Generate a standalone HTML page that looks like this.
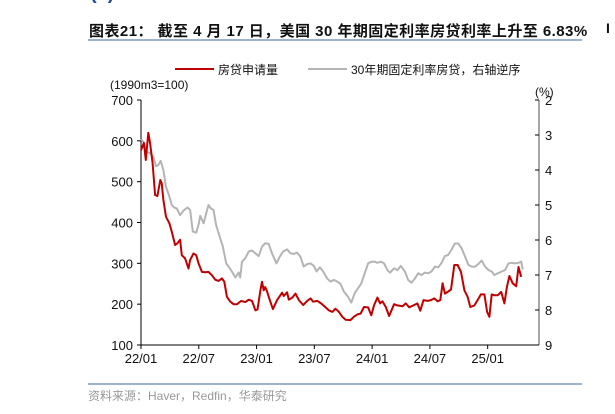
<!DOCTYPE html>
<html><head><meta charset="utf-8">
<style>
body{margin:0;width:615px;height:414px;background:#fff;overflow:hidden;font-family:"Liberation Sans","Noto Sans CJK SC",sans-serif;}
#wrap{position:relative;width:615px;height:414px;}
.t{position:absolute;white-space:nowrap;}
</style></head>
<body>
<div id="wrap">
<div class="t" style="left:90px;top:-18px;font-size:20px;color:#1f4e8c;font-weight:bold;">(2)</div>
<div class="t" style="left:89px;top:20px;font-size:15px;font-weight:bold;color:#111;letter-spacing:0.45px;">图表21：&nbsp;截至 4 月 17 日，美国 30 年期固定利率房贷利率上升至 6.83%</div>
<div style="position:absolute;left:88px;top:39px;width:494px;height:2px;background:#9fb2cc;"></div>
<div style="position:absolute;left:88px;top:383px;width:494px;height:2px;background:#9fb2cc;"></div>
<div class="t" style="left:88px;top:387px;font-size:12px;color:#999;">资料来源：Haver，Redfin，华泰研究</div>
<div class="t" style="left:606px;top:20px;font-size:14px;font-weight:bold;color:#111;">I</div>
<svg id="chart" width="615" height="414" style="position:absolute;left:0;top:0"></svg>
</div>
<script>
const redMonths=[0,0.3,0.5,0.76,0.94,1.2,1.46,1.7,2.0,2.15,2.33,2.6,2.95,3.2,3.54,3.78,4.06,4.24,4.58,4.93,5.1,5.45,5.73,5.97,6.32,6.67,7.0,7.36,7.7,8.05,8.4,8.65,8.92,9.27,9.62,9.97,10.4,10.83,11.18,11.53,11.88,12.1,12.4,12.57,12.74,12.9,13.1,13.37,13.7,14.13,14.65,14.83,15.17,15.35,15.7,16.04,16.4,16.84,17.26,17.6,17.88,18.3,18.7,19.17,19.5,19.86,20.2,20.55,20.9,21.25,21.77,22.1,22.47,22.8,23.16,23.58,23.92,24.2,24.55,24.83,25.07,25.42,25.76,26.28,26.63,27.15,27.5,27.85,28.37,28.7,29.0,29.34,29.76,30.1,30.45,30.8,31.08,31.32,31.56,31.84,32.19,32.53,32.88,33.23,33.58,33.92,34.2,34.62,34.97,35.3,35.66,35.94,36.18,36.42,36.7,37.05,37.4,37.74,38.0,38.26,38.6,38.96,39.2,39.48];
const redValues=[577,595,553,620,594,545,467,465,504,496,455,414,398,377,345,349,358,320,312,287,308,324,320,300,279,278,279,271,260,257,263,255,218,206,200,200,208,205,211,208,185,187,234,255,234,242,230,210,188,210,228,220,229,211,216,226,210,198,208,214,206,208,202,192,185,181,189,181,169,162,161,169,175,177,193,192,173,197,216,202,207,193,171,200,197,195,202,192,198,202,184,210,208,210,214,207,210,251,226,230,236,296,296,279,234,218,193,197,211,224,224,181,169,224,222,222,230,202,242,269,251,244,291,267];
const greyMonths=[0,0.24,0.59,0.94,1.28,1.56,1.8,2.05,2.33,2.6,2.95,3.2,3.44,3.72,4.06,4.41,4.83,5.1,5.38,5.73,5.97,6.15,6.5,6.77,7.01,7.26,7.53,7.8,8.16,8.5,8.85,9.1,9.44,9.8,10.14,10.3,10.49,10.83,11.18,11.53,11.88,12.22,12.57,12.9,13.26,13.6,14.06,14.4,14.76,15.17,15.52,15.87,16.2,16.56,16.9,17.26,17.6,17.95,18.23,18.58,18.92,19.34,19.69,20.03,20.38,20.73,21.08,21.5,21.84,22.19,22.53,22.88,23.23,23.58,23.92,24.27,24.55,24.9,25.24,25.59,25.87,26.28,26.63,26.98,27.4,27.74,28.09,28.44,28.78,29.13,29.48,29.83,30.17,30.52,30.87,31.22,31.56,31.9,32.26,32.6,32.95,33.3,33.58,34.0,34.34,34.69,35.03,35.38,35.73,36.08,36.42,36.7,37.05,37.47,37.8,38.16,38.5,38.85,39.2,39.48,39.65];
const greyValues=[3.12,3.19,3.48,3.52,3.62,3.89,3.86,3.74,4.0,4.48,4.76,5.0,5.07,5.1,5.29,5.16,5.07,5.14,5.76,5.79,5.57,5.31,5.52,5.24,5.0,5.1,5.14,5.57,5.9,6.19,6.67,6.76,6.9,7.07,6.93,7.07,6.62,6.52,6.33,6.3,6.38,6.46,6.19,6.09,6.11,6.38,6.67,6.48,6.33,6.27,6.38,6.4,6.36,6.48,6.76,6.69,6.67,6.74,6.9,6.78,6.9,7.1,7.19,7.14,7.19,7.26,7.48,7.62,7.79,7.52,7.38,7.24,6.95,6.67,6.62,6.62,6.65,6.62,6.67,6.86,6.93,6.81,6.86,6.74,6.9,7.14,7.22,7.1,6.95,7.0,6.93,6.95,6.9,6.76,6.78,6.65,6.46,6.43,6.27,6.1,6.1,6.24,6.43,6.71,6.76,6.76,6.69,6.59,6.76,6.86,6.9,7.0,6.95,6.9,6.86,6.67,6.65,6.67,6.65,6.62,6.84];
const leftTicks=[100,200,300,400,500,600,700];
const rightTicks=[2,3,4,5,6,7,8,9];
const xTickLabels=["22/01","22/07","23/01","23/07","24/01","24/07","25/01"];
const xTickMonths=[0,6,12,18,24,30,36];

const svg=document.getElementById('chart');
const NS='http://www.w3.org/2000/svg';
const X0=141,X1=539,Y0=100,Y1=345;
const xs=m=>X0+m*9.63;
const yl=v=>Y1-(v-100)/600*(Y1-Y0);
const yr=v=>Y0+(v-2)/7*(Y1-Y0);
function mk(tag,attrs,name){const e=document.createElementNS(NS,tag);for(const k in attrs)e.setAttribute(k,attrs[k]);


svg.appendChild(e);return e;}
function txt(x,y,s,anchor,name,size){const t=mk('text',{x:x,y:y,'text-anchor':anchor,'font-size':size||13,fill:'#111','font-family':'Liberation Sans, Noto Sans CJK SC, sans-serif'},name);t.textContent=s;return t;}
mk('line',{x1:X0,y1:Y0,x2:X0,y2:Y1,stroke:'#000','stroke-width':1},'left-axis');
mk('line',{x1:X0-4,y1:Y1,x2:X1,y2:Y1,stroke:'#000','stroke-width':1},'x-axis');
mk('line',{x1:X1,y1:Y0,x2:X1,y2:Y1,stroke:'#888','stroke-width':1.5},'right-axis');
leftTicks.forEach(v=>{mk('line',{x1:X0-4,y1:yl(v),x2:X0,y2:yl(v),stroke:'#000'},'left-tick');txt(X0-8,yl(v)+5,String(v),'end','left-tick-label');});
rightTicks.forEach(v=>{mk('line',{x1:X1-4,y1:yr(v),x2:X1,y2:yr(v),stroke:'#000'},'right-tick');txt(X1+6,yr(v)+5,String(v),'start','right-tick-label');});
xTickMonths.forEach((m,i)=>{mk('line',{x1:xs(m),y1:Y1,x2:xs(m),y2:Y1+4,stroke:'#000'},'x-tick');txt(xs(m),Y1+18,xTickLabels[i],'middle','x-tick-label');});
txt(110,89,'(1990m3=100)','start','left-axis-unit',12);
txt(535,96,'(%)','start','right-axis-unit',12);
const gp=greyMonths.map((m,i)=>xs(m).toFixed(1)+','+yr(greyValues[i]).toFixed(1)).join(' ');
mk('polyline',{points:gp,fill:'none',stroke:'#b4b4b4','stroke-width':2,'stroke-linejoin':'round'},'mortgage-rate-line');
const rp=redMonths.map((m,i)=>xs(m).toFixed(1)+','+yl(redValues[i]).toFixed(1)).join(' ');
mk('polyline',{points:rp,fill:'none',stroke:'#c00000','stroke-width':2,'stroke-linejoin':'round'},'mortgage-applications-line');
mk('line',{x1:175,y1:69,x2:214,y2:69,stroke:'#c00000','stroke-width':2},'legend-swatch-applications');
txt(218,74,'房贷申请量','start','legend-label-applications',12);
mk('line',{x1:308,y1:69,x2:347,y2:69,stroke:'#b4b4b4','stroke-width':2},'legend-swatch-rate');
txt(351,74,'30年期固定利率房贷，右轴逆序','start','legend-label-rate',12);
</script>
</body></html>
